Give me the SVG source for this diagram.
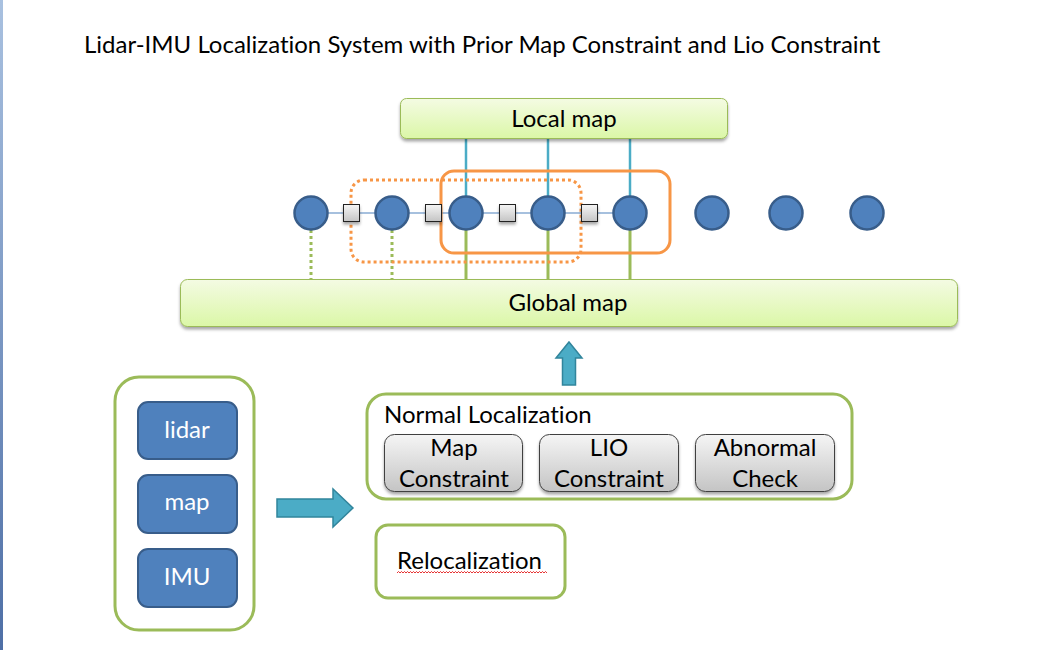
<svg xmlns="http://www.w3.org/2000/svg" width="1038" height="650" viewBox="0 0 1038 650">
<style>
text{font-family:Lato,"Open Sans","Liberation Sans",sans-serif;font-size:24px;fill:#000;font-variant-ligatures:none;font-feature-settings:"liga" 0}
.w{fill:#fff;text-anchor:middle}
.c{text-anchor:middle}
.circ{fill:#4F81BD;stroke:#385D8A;stroke-width:2.5}
.sq{fill:url(#gGray);stroke:#222;stroke-width:1}
.grn{fill:none;stroke:#9BBB59;stroke-width:3}
.blu{stroke:#4BACC6;stroke-width:2.5}
.gl{stroke:#9BBB59;stroke-width:3}
.gd{stroke:#9BBB59;stroke-width:3;stroke-dasharray:3 3}
.inp{fill:#4F81BD;stroke:#385D8A;stroke-width:2}
.btn{fill:url(#gGray);stroke:#404040;stroke-width:1}
.arr{fill:#4BACC6;stroke:#31859C;stroke-width:1.5}
</style>
<defs>
<linearGradient id="gGreen" x1="0" y1="0" x2="0" y2="1"><stop offset="0" stop-color="#F4FBE3"/><stop offset="1" stop-color="#DBF7A7"/></linearGradient>
<linearGradient id="gGray" x1="0" y1="0" x2="0" y2="1"><stop offset="0" stop-color="#F5F5F5"/><stop offset="1" stop-color="#C4C4C4"/></linearGradient>
<linearGradient id="gEdge" x1="0" y1="0" x2="0" y2="1"><stop offset="0" stop-color="#A9C1E0"/><stop offset="1" stop-color="#4E6FA6"/></linearGradient>
<filter id="sh" x="-10%" y="-20%" width="120%" height="160%"><feDropShadow dx="0" dy="2.5" stdDeviation="1.8" flood-color="#000" flood-opacity="0.35"/></filter>
</defs>
<rect x="0" y="0" width="1038" height="650" fill="#fff"/>
<rect x="0" y="0" width="3" height="650" fill="url(#gEdge)"/>
<text id="title" x="84" y="53">Lidar-IMU Localization System with Prior Map Constraint and Lio Constraint</text>

<g id="connectors">
<line x1="311" y1="213" x2="630" y2="213" stroke="#4F81BD" stroke-width="1.2"/>
<line class="blu" x1="466" y1="139" x2="466" y2="197"/>
<line class="blu" x1="548" y1="139" x2="548" y2="197"/>
<line class="blu" x1="630" y1="139" x2="630" y2="197"/>
<line class="gl" x1="466" y1="229" x2="466" y2="280"/>
<line class="gl" x1="548" y1="229" x2="548" y2="280"/>
<line class="gl" x1="630" y1="229" x2="630" y2="280"/>
<line class="gd" x1="311" y1="230" x2="311" y2="280"/>
<line class="gd" x1="392" y1="230" x2="392" y2="280"/>
<polygon class="arr" points="569,342 582,358 575.5,358 575.5,385 562.5,385 562.5,358 556,358"/>
<polygon class="arr" points="353,508 333,527 333,517 277,517 277,499 333,499 333,489"/>
</g>

<g id="local-map">
<rect x="400.5" y="98.5" width="327" height="40" rx="6" fill="url(#gGreen)" stroke="#9BBB59" stroke-width="1" filter="url(#sh)"/>
<text class="c" x="564" y="127">Local map</text>
</g>

<g id="window-dotted"><rect x="351" y="180" width="230" height="82" rx="13" fill="none" stroke="#F79646" stroke-width="3" stroke-dasharray="3 3"/></g>
<g id="window-solid"><rect x="441" y="171" width="229" height="82" rx="13" fill="none" stroke="#F79646" stroke-width="3"/></g>

<g id="nodes">
<circle class="circ" cx="311" cy="213" r="16.5"/>
<circle class="circ" cx="392" cy="213" r="16.5"/>
<circle class="circ" cx="466" cy="213" r="16.5"/>
<circle class="circ" cx="548" cy="213" r="16.5"/>
<circle class="circ" cx="630" cy="213" r="16.5"/>
<circle class="circ" cx="712" cy="213" r="16.5"/>
<circle class="circ" cx="786" cy="213" r="16.5"/>
<circle class="circ" cx="867" cy="213" r="16.5"/>
</g>
<g id="factors" filter="url(#sh)">
<rect class="sq" x="343.5" y="204.5" width="16" height="17"/>
<rect class="sq" x="425.5" y="204.5" width="16" height="17"/>
<rect class="sq" x="499.5" y="204.5" width="16" height="17"/>
<rect class="sq" x="581.5" y="204.5" width="16" height="17"/>
</g>

<g id="global-map">
<rect x="180.5" y="279.5" width="777" height="47" rx="7" fill="url(#gGreen)" stroke="#9BBB59" stroke-width="1" filter="url(#sh)"/>
<text class="c" x="568" y="311">Global map</text>
</g>

<g id="inputs">
<rect class="grn" x="115" y="377" width="139" height="253" rx="24"/>
<rect class="inp" x="138" y="402" width="99" height="57" rx="10"/>
<text class="w" x="187" y="438">lidar</text>
<rect class="inp" x="138" y="475" width="99" height="58" rx="10"/>
<text class="w" x="187" y="510">map</text>
<rect class="inp" x="138" y="549" width="99" height="58" rx="10"/>
<text class="w" x="187" y="585">IMU</text>
</g>

<g id="normal-localization">
<rect class="grn" x="367" y="394" width="485" height="105" rx="19"/>
<text x="384" y="423">Normal Localization</text>
<g filter="url(#sh)">
<rect class="btn" x="384.5" y="434.5" width="138" height="57" rx="10"/>
<rect class="btn" x="539.5" y="434.5" width="139" height="57" rx="10"/>
<rect class="btn" x="695.5" y="434.5" width="139" height="57" rx="10"/>
</g>
<text class="c" x="454" y="456">Map</text>
<text class="c" x="454" y="487">Constraint</text>
<text class="c" x="609" y="456">LIO</text>
<text class="c" x="609" y="487">Constraint</text>
<text class="c" x="765" y="456">Abnormal</text>
<text class="c" x="765" y="487">Check</text>
</g>

<g id="relocalization">
<rect class="grn" x="376" y="525" width="189" height="73" rx="12"/>
<text x="397" y="569">Relocalization</text>
<path d="M397,573 l1.5,-1.5 l1.5,1.5 l1.5,-1.5 l1.5,1.5 l1.5,-1.5 l1.5,1.5 l1.5,-1.5 l1.5,1.5 l1.5,-1.5 l1.5,1.5 l1.5,-1.5 l1.5,1.5 l1.5,-1.5 l1.5,1.5 l1.5,-1.5 l1.5,1.5 l1.5,-1.5 l1.5,1.5 l1.5,-1.5 l1.5,1.5 l1.5,-1.5 l1.5,1.5 l1.5,-1.5 l1.5,1.5 l1.5,-1.5 l1.5,1.5 l1.5,-1.5 l1.5,1.5 l1.5,-1.5 l1.5,1.5 l1.5,-1.5 l1.5,1.5 l1.5,-1.5 l1.5,1.5 l1.5,-1.5 l1.5,1.5 l1.5,-1.5 l1.5,1.5 l1.5,-1.5 l1.5,1.5 l1.5,-1.5 l1.5,1.5 l1.5,-1.5 l1.5,1.5 l1.5,-1.5 l1.5,1.5 l1.5,-1.5 l1.5,1.5 l1.5,-1.5 l1.5,1.5 l1.5,-1.5 l1.5,1.5 l1.5,-1.5 l1.5,1.5 l1.5,-1.5 l1.5,1.5 l1.5,-1.5 l1.5,1.5 l1.5,-1.5 l1.5,1.5 l1.5,-1.5 l1.5,1.5 l1.5,-1.5 l1.5,1.5 l1.5,-1.5 l1.5,1.5 l1.5,-1.5 l1.5,1.5 l1.5,-1.5 l1.5,1.5 l1.5,-1.5 l1.5,1.5 l1.5,-1.5 l1.5,1.5 l1.5,-1.5 l1.5,1.5 l1.5,-1.5 l1.5,1.5 l1.5,-1.5 l1.5,1.5 l1.5,-1.5 l1.5,1.5 l1.5,-1.5 l1.5,1.5 l1.5,-1.5 l1.5,1.5 l1.5,-1.5 l1.5,1.5 l1.5,-1.5 l1.5,1.5 l1.5,-1.5 l1.5,1.5 l1.5,-1.5 l1.5,1.5 l1.5,-1.5 l1.5,1.5 l1.5,-1.5 l1.5,1.5 l1.5,-1.5 l1.5,1.5" fill="none" stroke="#E00000" stroke-width="0.8"/>
</g>
</svg>
